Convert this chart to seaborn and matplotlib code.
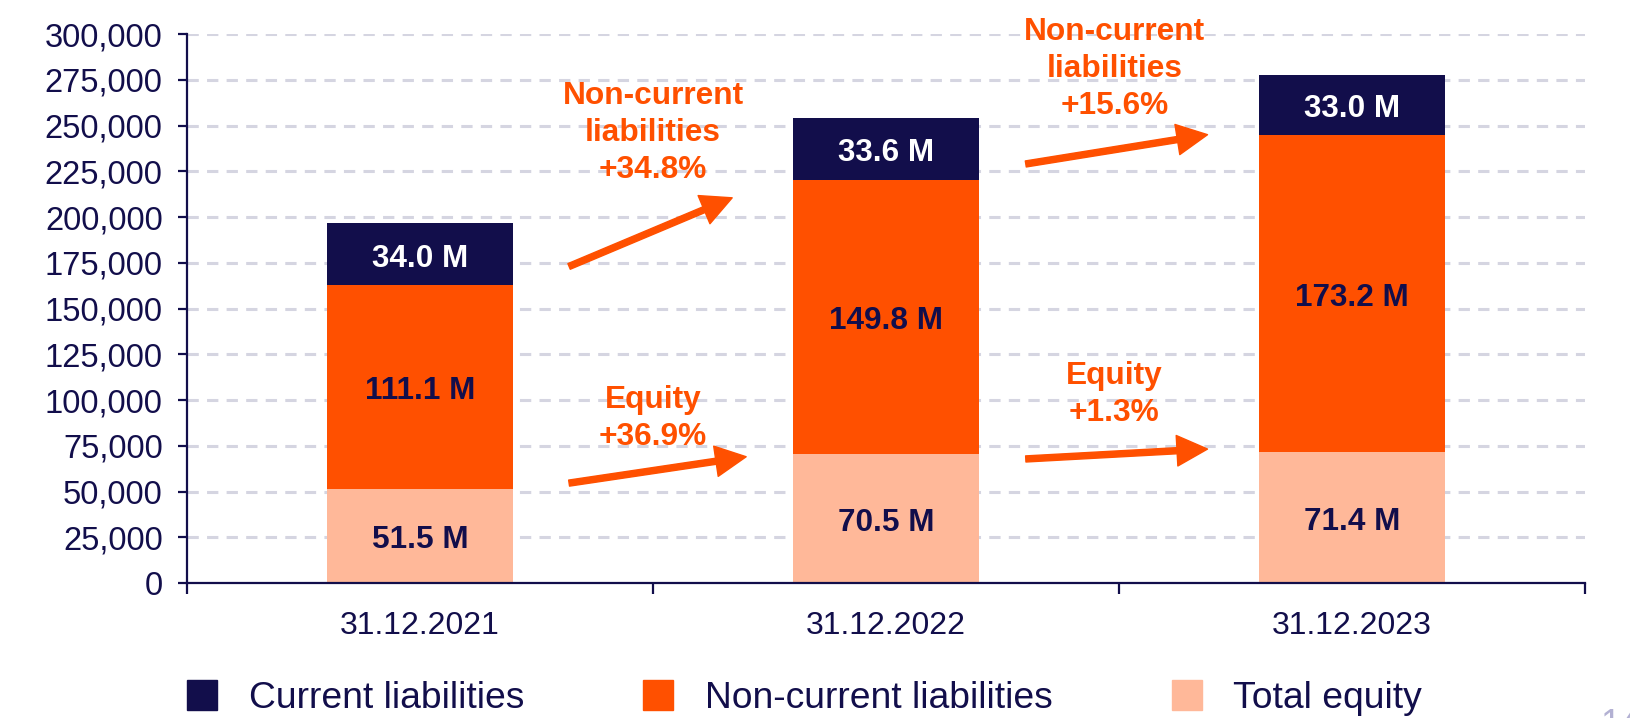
import numpy as np
import pandas as pd
import seaborn as sns
import matplotlib.pyplot as plt
from matplotlib.lines import Line2D
from matplotlib.ticker import FuncFormatter, MultipleLocator

# values in thousands
dates = ["31.12.2021", "31.12.2022", "31.12.2023"]
equity = [51500, 70500, 71400]
non_current = [111100, 149800, 173200]
current = [34000, 33600, 33000]

eq_labels = ["51.5 M", "70.5 M", "71.4 M"]
ncl_labels = ["111.1 M", "149.8 M", "173.2 M"]
cl_labels = ["34.0 M", "33.6 M", "33.0 M"]

# growth callouts between the bars
ncl_growth = ["Non-current\nliabilities\n+34.8%", "Non-current\nliabilities\n+15.6%"]
eq_growth = ["Equity\n+36.9%", "Equity\n+1.3%"]

navy = "#120E4B"
orange = "#FF5000"
peach = "#FFB899"

sns.set_theme(style="white")
plt.rcParams["font.family"] = ["Liberation Sans", "DejaVu Sans"]

df = pd.DataFrame({"date": dates, "equity": equity,
                   "non_current": non_current, "current": current})
df["lvl2"] = df["equity"] + df["non_current"]
df["total"] = df["lvl2"] + df["current"]

fig = plt.figure(figsize=(16.3, 7.18), dpi=100)
ax = fig.add_axes([0.1147, 0.188, 0.8577, 0.7646])

bar_kw = dict(saturation=1, width=0.4, ax=ax, zorder=2, linewidth=0)
sns.barplot(data=df, x="date", y="total", color=navy, **bar_kw)
sns.barplot(data=df, x="date", y="lvl2", color=orange, **bar_kw)
sns.barplot(data=df, x="date", y="equity", color=peach, **bar_kw)

lab_kw = dict(ha="center", va="center", fontsize=22.7, fontweight="bold", zorder=3,
              xytext=(0, -3), textcoords="offset points")
for i, row in df.iterrows():
    ax.annotate(eq_labels[i], (i, row["equity"] / 2), color=navy, **lab_kw)
    ax.annotate(ncl_labels[i], (i, row["equity"] + row["non_current"] / 2), color=navy, **lab_kw)
    ax.annotate(cl_labels[i], (i, row["lvl2"] + row["current"] / 2), color="white", **lab_kw)

ax.set_xlim(-0.5, 2.5)
ax.set_ylim(0, 300000)
ax.yaxis.set_major_locator(MultipleLocator(25000))
ax.yaxis.set_major_formatter(FuncFormatter(lambda v, p: f"{int(v):,}"))
ax.set_xlabel("")
ax.set_ylabel("")

ax.grid(axis="y", color="#D5D5E1", linestyle=(0, (3.7, 2.7)), linewidth=2.2, zorder=0)
ax.set_axisbelow(True)

for s in ["top", "right"]:
    ax.spines[s].set_visible(False)
for s in ["left", "bottom"]:
    ax.spines[s].set_color(navy)
    ax.spines[s].set_linewidth(1.6)
    ax.spines[s].set_zorder(4)

ax.tick_params(axis="y", which="major", left=True, length=6.5, width=1.6, color=navy,
               labelsize=23.5, labelcolor=navy, pad=11)
ax.tick_params(axis="x", which="major", bottom=False, labelsize=23, labelcolor=navy, pad=14)
ax.set_xticks([-0.5, 0.5, 1.5, 2.5], minor=True)
ax.tick_params(axis="x", which="minor", bottom=True, direction="out", length=8, width=1.6, color=navy)

arrow_kw = dict(arrowstyle="simple,head_length=1.1,head_width=1.1,tail_width=0.22",
                color=orange, mutation_scale=20, shrinkA=0, shrinkB=0)
text_kw = dict(ha="center", va="center", fontsize=22.8, fontweight="bold",
               color=orange, linespacing=1.3)

ncl_text_pos = [(0.5, 246000), (1.49, 280800)]
ncl_arrows = [((0.32, 173000), (0.67, 210500)), ((1.3, 229000), (1.69, 245000))]
eq_text_pos = [(0.5, 89700), (1.49, 103000)]
eq_arrows = [((0.32, 54600), (0.70, 69000)), ((1.3, 67800), (1.69, 73200))]

for txt, pos, (a, b) in zip(ncl_growth, ncl_text_pos, ncl_arrows):
    ax.text(pos[0], pos[1], txt, **text_kw)
    ax.annotate("", xy=b, xytext=a, arrowprops=arrow_kw)
for txt, pos, (a, b) in zip(eq_growth, eq_text_pos, eq_arrows):
    ax.text(pos[0], pos[1], txt, **text_kw)
    ax.annotate("", xy=b, xytext=a, arrowprops=arrow_kw)

handles = [Line2D([], [], marker="s", ls="", markersize=21, color=c) for c in (navy, orange, peach)]
fig.legend(handles, ["Current liabilities", "Non-current liabilities", "Total equity"],
           loc="center left", bbox_to_anchor=(0.1150, 0.027), ncol=3, frameon=False,
           fontsize=26.8, labelcolor=navy, columnspacing=3.2, handletextpad=0.85,
           handlelength=0.8, borderpad=0, borderaxespad=0)

# slide page number, cut by the bottom edge
fig.text(0.9816, 0.014, "14", fontsize=26, color="#B3B1D3", ha="left", va="top")

fig.savefig("out.png", dpi=100)
